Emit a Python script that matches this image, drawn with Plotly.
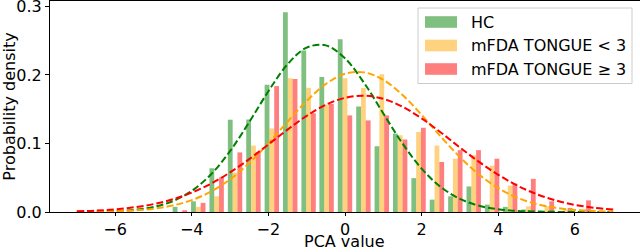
import plotly.graph_objects as go

# ---------------- data ----------------
bin_centers = [-4.31, -3.83, -3.35, -2.87, -2.39, -1.91, -1.43, -0.95, -0.48, 0.00,
               0.48, 0.96, 1.44, 1.92, 2.40, 2.88, 3.36, 3.84, 4.31, 4.79,
               5.27, 5.75, 6.23]

hc_density = [0.0075, 0.0156, 0.0638, 0.1347, 0.1350, 0.1857, 0.2916, 0.2358, 0.1970, 0.2520,
              0.1540, 0.0960, 0.1144, 0.0494, 0.0180, 0.0229, 0.0373, 0.0108, 0.0075, 0.0036,
              0.0, 0.0, 0.0]
low_density = [0.0, 0.0075, 0.0229, 0.0575, 0.0970, 0.1220, 0.1953, 0.1813, 0.1570, 0.1953,
               0.1810, 0.2010, 0.1120, 0.1168, 0.0970, 0.0778, 0.0830, 0.0676, 0.0387, 0.0084,
               0.0084, 0.0036, 0.0036]
high_density = [0.0026, 0.0133, 0.0509, 0.0870, 0.0870, 0.1838, 0.1943, 0.1442, 0.1580, 0.1410,
                0.1337, 0.1410, 0.1058, 0.1230, 0.0730, 0.0903, 0.0903, 0.0778, 0.0416, 0.0484,
                0.0156, 0.0060, 0.0170]

curve_x = [-7.0, -6.5, -6.0, -5.5, -5.0, -4.5, -4.0, -3.5, -3.0, -2.5, -2.0, -1.5, -1.0, -0.5,
           0.0, 0.5, 1.0, 1.5, 2.0, 2.5, 3.0, 3.5, 4.0, 4.5, 5.0, 5.5, 6.0, 6.5, 7.0]
hc_curve = [0.0001, 0.0004, 0.0012, 0.0031, 0.0073, 0.0157, 0.0308, 0.0548, 0.0889, 0.1312,
            0.1763, 0.2156, 0.2400, 0.2432, 0.2243, 0.1883, 0.1439, 0.1001, 0.0633, 0.0365,
            0.0191, 0.0091, 0.0040, 0.0016, 0.0006, 0.0002, 0.0001, 0.0, 0.0]
low_curve = [0.0002, 0.0004, 0.0011, 0.0023, 0.0049, 0.0095, 0.0174, 0.0297, 0.0476, 0.0714,
             0.1002, 0.1318, 0.1621, 0.1869, 0.2017, 0.2038, 0.1929, 0.1709, 0.1418, 0.1101,
             0.0801, 0.0546, 0.0348, 0.0208, 0.0116, 0.0061, 0.0030, 0.0014, 0.0006]
high_curve = [0.0011, 0.0021, 0.0039, 0.0069, 0.0115, 0.0185, 0.0283, 0.0413, 0.0578, 0.0772,
              0.0986, 0.1203, 0.1404, 0.1565, 0.1667, 0.1698, 0.1652, 0.1537, 0.1366, 0.1161,
              0.0942, 0.0731, 0.0543, 0.0385, 0.0261, 0.0169, 0.0104, 0.0062, 0.0035]

series_names = ["HC", "mFDA TONGUE < 3", "mFDA TONGUE ≥ 3"]
x_ticks = [-6, -4, -2, 0, 2, 4, 6]
y_ticks = [0.0, 0.1, 0.2, 0.3]
x_title = "PCA value"
y_title = "Probability density"

# ---------------- styles ----------------
bar_colors = ["rgba(0,128,0,0.5)", "rgba(255,165,0,0.5)", "rgba(255,0,0,0.5)"]
line_colors = ["#008000", "#FFA500", "#FF0000"]
FONT = "DejaVu Sans"

fig = go.Figure()
for name, vals, col in zip(series_names, [hc_density, low_density, high_density], bar_colors):
    fig.add_trace(go.Bar(x=bin_centers, y=vals, name=name, marker=dict(color=col, line=dict(width=0)),
                         showlegend=False))
for yv, col in zip([hc_curve, low_curve, high_curve], line_colors):
    fig.add_trace(go.Scatter(x=curve_x, y=yv, mode="lines", line=dict(color=col, width=2, dash="7px,3px",
                                                                       shape="spline"),
                             showlegend=False))

# plot area in pixels: left 50, right 640, top 1, bottom 212
L, R, T, B = 50, 640, 1, 212
def px(x):
    return (x - L) / (R - L)
def py(y):
    return (B - y) / (B - T)

shapes = [dict(type="rect", xref="paper", yref="paper", x0=px(418), x1=px(632), y0=py(83.5), y1=py(8),
               line=dict(color="#cccccc", width=1), fillcolor="rgba(255,255,255,0.8)", layer="above")]
annotations = []
centers = [22, 45.5, 69]
for name, col, cy in zip(series_names, bar_colors, centers):
    shapes.append(dict(type="rect", xref="paper", yref="paper", x0=px(425), x1=px(457),
                       y0=py(cy + 5.8), y1=py(cy - 5.8), line=dict(width=0), fillcolor=col, layer="above"))
    annotations.append(dict(xref="paper", yref="paper", x=px(469), y=py(cy), text=name, showarrow=False,
                            xanchor="left", yanchor="middle", font=dict(family=FONT, size=16, color="black")))
# x-axis title
annotations.append(dict(xref="paper", yref="paper", x=px(344.5), y=py(252), text=x_title, showarrow=False,
                        xanchor="center", yanchor="bottom", borderpad=0,
                        font=dict(family=FONT, size=16, color="black")))

fig.update_layout(
    width=640, height=252,
    margin=dict(l=L, r=0, t=T, b=252 - B, autoexpand=False),
    paper_bgcolor="white", plot_bgcolor="white",
    barmode="group", bargap=0.2, bargroupgap=0,
    font=dict(family=FONT, size=16, color="black"),
    shapes=shapes, annotations=annotations,
    xaxis=dict(range=[-7.7, 7.7], tickvals=x_ticks, ticks="outside", ticklen=3, tickcolor="black",
               showline=True, linecolor="black", linewidth=1, mirror=True, showgrid=False, zeroline=False,
               automargin=False, tickfont=dict(size=16)),
    yaxis=dict(range=[0, 0.308], tickvals=y_ticks, tickformat=".1f", ticks="outside", ticklen=4,
               tickcolor="black", showline=True, linecolor="black", linewidth=1, showgrid=False,
               zeroline=False, automargin=False,
               title=dict(text=y_title, font=dict(size=16), standoff=4),
               tickfont=dict(size=16), ticklabeloverflow="allow"),
)

fig.write_html("out.html", config={"displayModeBar": False},
               post_script="document.body.style.margin='0px';document.body.style.overflow='hidden';")
